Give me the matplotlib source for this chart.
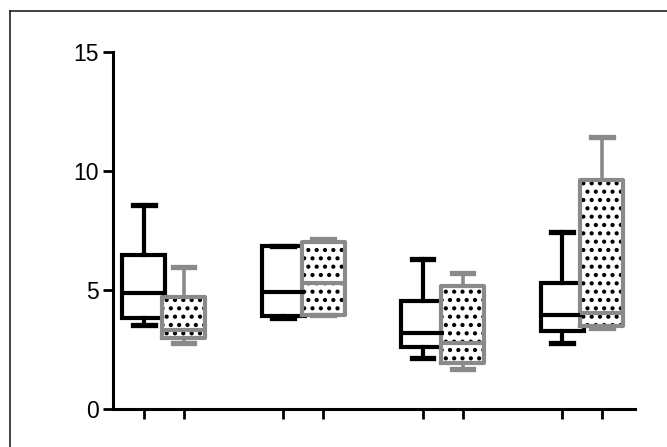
import matplotlib.pyplot as plt
from matplotlib.lines import Line2D

plt.rcParams['font.family'] = ['Liberation Sans', 'DejaVu Sans']
plt.rcParams['hatch.linewidth'] = 1.8

# box positions: two boxes per group
positions = [1, 2, 4.5, 5.5, 8, 9, 11.5, 12.5]

# values, per box: low whisker, Q1, median, Q3, high whisker
whislo = [3.54, 2.77, 3.85, 3.96, 2.17, 1.68, 2.77, 3.40]
q1     = [3.82, 2.98, 3.93, 3.96, 2.63, 1.93, 3.30, 3.50]
med    = [4.87, 3.33, 4.93, 5.28, 3.19, 2.80, 3.96, 4.03]
q3     = [6.46, 4.73, 6.85, 7.00, 4.56, 5.17, 5.31, 9.62]
whishi = [8.57, 5.98, 6.85, 7.13, 6.29, 5.70, 7.45, 11.41]

stats = [dict(whislo=a, q1=b, med=c, q3=d, whishi=e, fliers=[])
         for a, b, c, d, e in zip(whislo, q1, med, q3, whishi)]

black_i = [0, 2, 4, 6]
gray_i = [1, 3, 5, 7]
GRAY = '#8a8a8a'
LW = 3.0

fig = plt.figure(figsize=(6.67, 4.47), dpi=100)
ax = fig.add_axes([113 / 667, 37.7 / 447, 522 / 667, 357.6 / 447])

# black boxes
ax.bxp([stats[i] for i in black_i], positions=[positions[i] for i in black_i],
       widths=1.08, showfliers=False, patch_artist=True,
       boxprops=dict(facecolor='white', edgecolor='black', linewidth=LW),
       whiskerprops=dict(color='black', linewidth=LW),
       capprops=dict(color='black', linewidth=LW + 0.8),
       medianprops=dict(color='black', linewidth=LW))

# dotted fill of the gray boxes
ax.bxp([stats[i] for i in gray_i], positions=[positions[i] for i in gray_i],
       widths=1.08, showfliers=False, patch_artist=True, showcaps=False,
       boxprops=dict(facecolor='white', edgecolor='black', hatch='..', linewidth=0),
       whiskerprops=dict(linewidth=0), medianprops=dict(linewidth=0))

# gray outlines
ax.bxp([stats[i] for i in gray_i], positions=[positions[i] for i in gray_i],
       widths=1.08, showfliers=False,
       boxprops=dict(color=GRAY, linewidth=LW),
       whiskerprops=dict(color=GRAY, linewidth=LW - 0.4),
       capprops=dict(color=GRAY, linewidth=LW + 0.8),
       medianprops=dict(color=GRAY, linewidth=LW))

ax.set_xlim(0.227, 13.33)
ax.set_ylim(0, 15)
ax.set_yticks([0, 5, 10, 15])
ax.set_xticks(positions)
ax.set_xticklabels([])
for s in ['top', 'right']:
    ax.spines[s].set_visible(False)
for s in ['left', 'bottom']:
    ax.spines[s].set_linewidth(2.2)
ax.tick_params(axis='both', width=2.0, length=7, labelsize=16.5, colors='black')
ax.tick_params(axis='y', pad=3)

# frame lines around the image (left and top only)
fig.add_artist(Line2D([9.5 / 667, 9.5 / 667], [0, 1 - 10.5 / 447],
                      transform=fig.transFigure, color='#222222', linewidth=1.2))
fig.add_artist(Line2D([9.5 / 667, 1], [1 - 10.5 / 447, 1 - 10.5 / 447],
                      transform=fig.transFigure, color='#222222', linewidth=1.2))

fig.savefig('out.png', dpi=100)
